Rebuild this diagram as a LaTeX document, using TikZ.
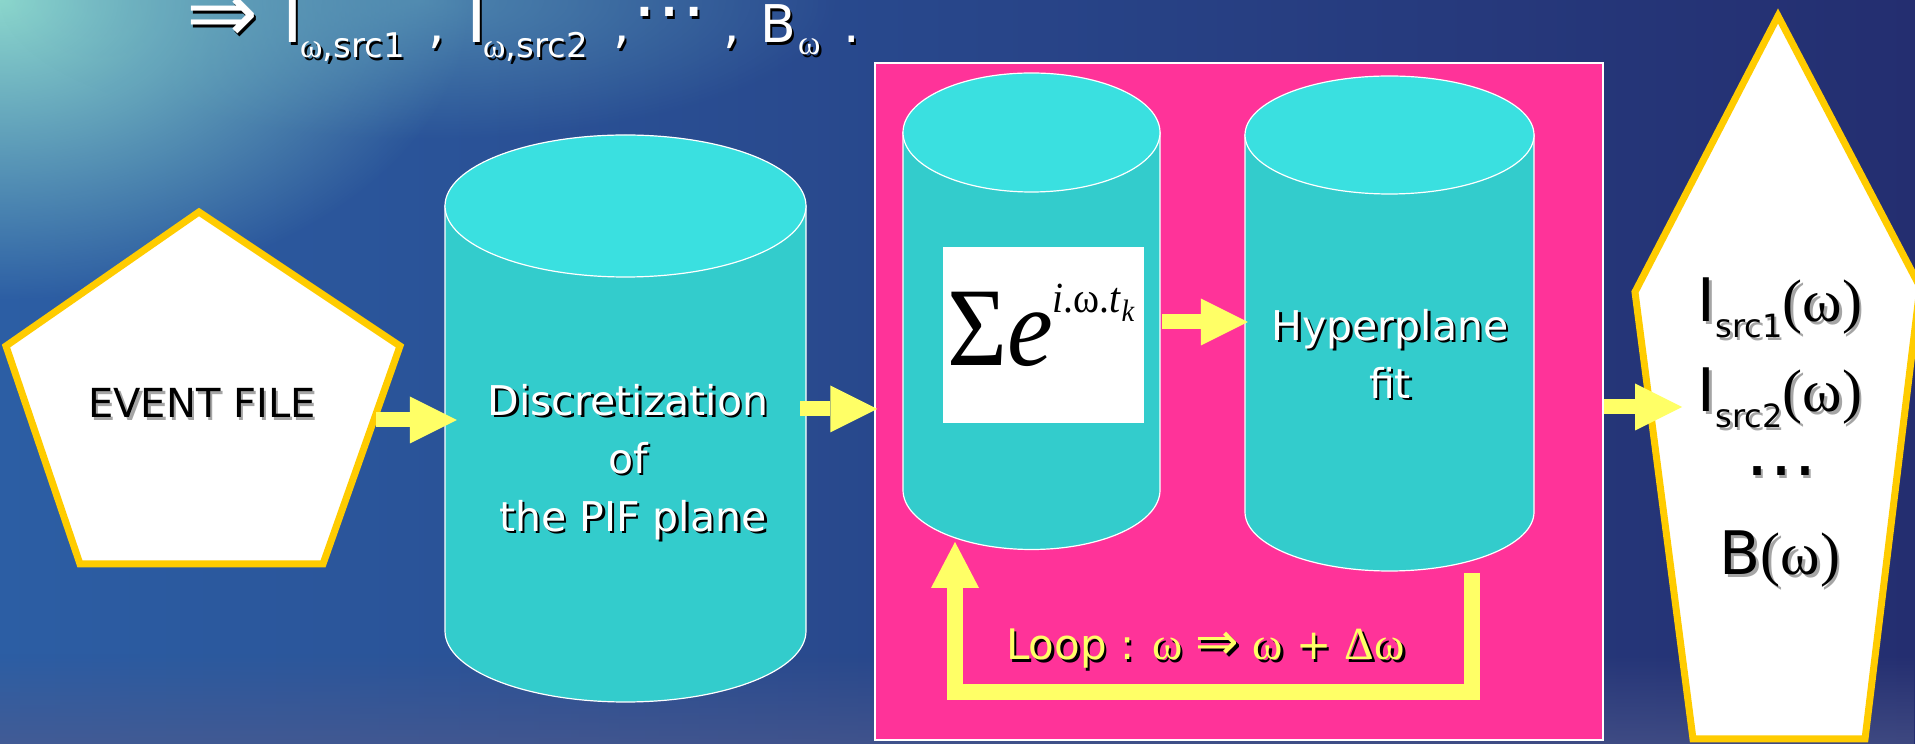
\documentclass[tikz,border=0pt]{standalone}
\usepackage{graphicx}
\usepackage{fontspec}
\setmainfont{DejaVu Sans}
\newfontfamily\serf{Liberation Serif}
\usepackage{tikz}
\usetikzlibrary{arrows.meta,fadings}
\definecolor{seaL}{RGB}{44,94,164}
\definecolor{seaR}{RGB}{36,46,112}
\definecolor{seaglow}{RGB}{140,215,205}
\definecolor{seamist}{RGB}{80,90,140}
\definecolor{cyltop}{RGB}{58,224,224}
\definecolor{cylbody}{RGB}{51,204,204}
\definecolor{loopbg}{RGB}{255,51,153}
\definecolor{flowyel}{RGB}{255,255,102}
\definecolor{rimgold}{RGB}{255,204,0}
\definecolor{shgray}{RGB}{165,165,165}
\tikzfading[name=glowfade, inner color=transparent!0, outer color=transparent!100]
% text with a drop shadow: #1 shadow colour
\newcommand{\shd}[2]{\makebox[0pt][l]{\hspace{2.5pt}\raisebox{-2.5pt}{\color{#1}#2}}#2}
\tikzset{
  cylside/.style ={fill=cylbody, draw=white, line width=1.2pt},
  cyltopf/.style ={fill=cyltop, draw=white, line width=1.2pt},
  cylbox/.style  ={inner sep=0pt, minimum width=#1},
  rim/.style     ={fill=white, draw=rimgold, line width=7pt, line join=miter},
  flow/.style    ={draw=flowyel, line width=15pt, -{Triangle[length=47pt,width=47pt,line width=0pt]}},
  loopflow/.style={draw=flowyel, line width=16pt, line join=miter, -{Triangle[length=46pt,width=48pt,line width=0pt]}},
  wtxt/.style    ={text=white, font=\fontsize{41}{58}\selectfont, inner sep=0pt, align=center},
  btxt/.style    ={text=black, font=\fontsize{40}{48}\selectfont, inner sep=0pt},
  otxt/.style    ={text=black, font=\fontsize{60}{60}\selectfont, inner sep=0pt},
  ytxt/.style    ={text=flowyel, font=\fontsize{42}{42}\selectfont, inner sep=0pt},
  ttl/.style     ={text=white, font=\fontsize{52}{52}\selectfont, inner sep=0pt, anchor=base west},
  ttls/.style    ={text=white, font=\fontsize{34}{34}\selectfont, inner sep=0pt, anchor=base west},
}

\begin{document}
\begin{tikzpicture}[x=1pt,y=1pt]
  \useasboundingbox (0,0) rectangle (1915,744);
  \clip (0,0) rectangle (1915,744);
  % sea background
  \shade[left color=seaL, right color=seaR] (0,0) rectangle (1915,744);
  \fill[seaglow, path fading=glowfade] (0,744) ellipse [x radius=470pt, y radius=300pt];
  \fill[seaglow!60!seaL, path fading=glowfade, opacity=0.6] (420,744) ellipse [x radius=420pt, y radius=140pt];
  \fill[seamist, path fading=north, opacity=0.6] (0,0) rectangle (1915,90);

  % title line
  \node[ttl, font=\fontsize{86}{86}\selectfont] (t-arr) at (186,701) {\shd{black}{⇒}};
  \node[ttl, font=\fontsize{70}{70}\selectfont] (t-i1) at (282,701) {\shd{black}{I}};
  \node[ttls] (t-s1) at (300,686) {\shd{black}{{\serf ω},src1}};
  \node[ttl] (t-c1) at (428,701) {\shd{black}{,}};
  \node[ttl, font=\fontsize{70}{70}\selectfont] (t-i2) at (466,701) {\shd{black}{I}};
  \node[ttls] (t-s2) at (483,686) {\shd{black}{{\serf ω},src2}};
  \node[ttl] (t-c2) at (613,701) {\shd{black}{,}};
  \node[ttl, font=\fontsize{74}{74}\selectfont] (t-dots) at (632,727) {\shd{black}{…}};
  \node[ttl] (t-c3) at (723,701) {\shd{black}{,}};
  \node[ttl] (t-b) at (760,701) {\shd{black}{B}};
  \node[ttls] (t-bs) at (798,689) {\shd{black}{\serf ω}};
  \node[ttl] (t-end) at (843,701) {\shd{black}{.}};

  % event file
  \draw[rim] (199,532) -- (400,398) -- (323,180) -- (80,180) -- (6,398) -- cycle;
  \node[btxt, anchor=base] (evfile) at (202,326) {\shd{shgray}{EVENT FILE}};
  \coordinate (ev-out) at (376,324);

  % discretization cylinder
  \draw[cylside] (445,538) -- (445,113) arc[start angle=180, end angle=360, x radius=180.5pt, y radius=71pt] -- (806,538) -- cycle;
  \draw[cyltopf] (625.5,538) ellipse [x radius=180.5pt, y radius=71pt];
  \node[cylbox=361, minimum height=425] (disc) at (625.5,325.5) {};
  \node[wtxt] (disctxt) at (628,281) {\shd{black}{Discretization}\\ \shd{black}{of}\\ \hspace{10pt}\shd{black}{the PIF plane}};
  \coordinate (disc-out) at (800,335);

  % loop box
  \node[fill=loopbg, draw=white, line width=1.5pt, inner sep=0pt, minimum width=728, minimum height=677] (loopbox) at (1239,342.5) {};

  % sum cylinder
  \draw[cylside] (903,611.5) -- (903,254) arc[start angle=180, end angle=360, x radius=128.5pt, y radius=59.5pt] -- (1160,611.5) -- cycle;
  \draw[cyltopf] (1031.5,611.5) ellipse [x radius=128.5pt, y radius=59.5pt];
  \node[cylbox=257, minimum height=357.5] (sumcyl) at (1031.5,432.75) {};
  \node[fill=white, inner sep=0pt, minimum width=201, minimum height=176] (sumbox) at (1043.5,409) {};
  \node[inner sep=0pt, anchor=base west] (sumtxt) at (947,378) {\serf\scalebox{0.92}[1]{\fontsize{112}{112}\selectfont Σ\textit{e}\raisebox{53pt}{\fontsize{43}{43}\selectfont\textit{i}.ω.\textit{t}\raisebox{-9pt}{\fontsize{31}{31}\selectfont\textit{k}}}}};
  \coordinate (sum-out) at (1162,422);
  \coordinate (sum-in) at (955,202);

  % hyperplane cylinder
  \draw[cylside] (1245,609) -- (1245,232) arc[start angle=180, end angle=360, x radius=144.5pt, y radius=59pt] -- (1534,609) -- cycle;
  \draw[cyltopf] (1389.5,609) ellipse [x radius=144.5pt, y radius=59pt];
  \node[cylbox=289, minimum height=377] (fitcyl) at (1389.5,420.5) {};
  \node[wtxt] (fittxt) at (1390,389) {\shd{black}{Hyperplane}\\ \shd{black}{fit}};
  \coordinate (fit-out) at (1472,171);

  % loop back
  \draw[loopflow] (fit-out) -- ++(0,-119) -| (sum-in);
  \node[ytxt, anchor=base west] (looplab) at (1006,84) {\shd{black}{Loop : {\serf\fontsize{46}{46}\selectfont ω} {\fontsize{52}{52}\selectfont ⇒} {\serf\fontsize{46}{46}\selectfont ω} + {\serf\fontsize{46}{46}\selectfont Δω}}};

  % result
  \draw[rim] (1778,728) -- (1920,457) -- (1865,5) -- (1693,5) -- (1635,452) -- cycle;
  \node[otxt, anchor=base] (src1) at (1780,422) {\shd{shgray}{I\raisebox{-16pt}{\fontsize{32}{32}\selectfont src1}{\serf(ω)}}};
  \node[otxt, anchor=base] (src2) at (1780,332) {\shd{shgray}{I\raisebox{-16pt}{\fontsize{32}{32}\selectfont src2}{\serf(ω)}}};
  \node[otxt, font=\fontsize{72}{72}\selectfont, anchor=base] (etc) at (1781,268) {\shd{shgray}{…}};
  \node[otxt, anchor=base] (bkg) at (1780,169) {\shd{shgray}{B{\serf(ω)}}};
  \coordinate (res-in) at (1682,337);

  % flow arrows
  \draw[flow, shorten >=-12pt] (ev-out) -- (disc.west |- ev-out);
  \draw[flow, shorten >=-3pt] (disc-out) -- (loopbox.west |- disc-out);
  \draw[flow, shorten >=-3pt] (sum-out) -- (fitcyl.west |- sum-out);
  \draw[flow] (loopbox.east |- res-in) -- (res-in);
\end{tikzpicture}
\end{document}
